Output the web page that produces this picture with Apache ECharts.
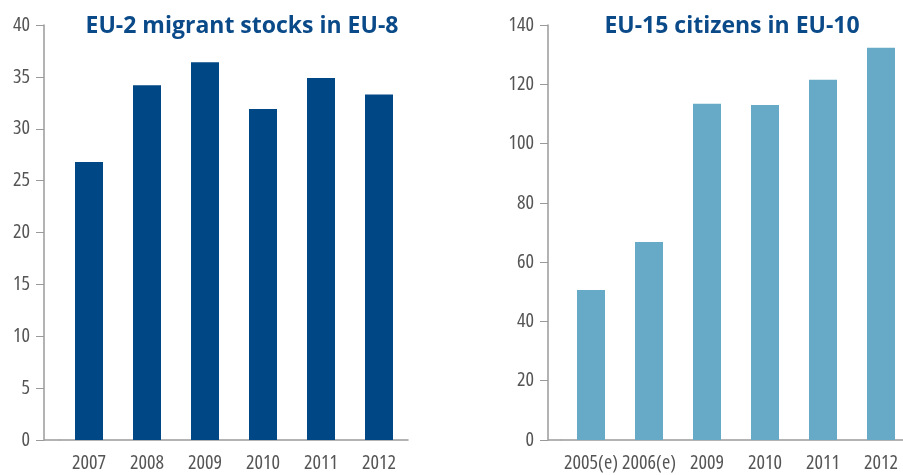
<!DOCTYPE html>
<html>
<head>
<meta charset="utf-8">
<title>EU migrant stocks</title>
<script src="https://cdn.jsdelivr.net/npm/echarts@6/dist/echarts.min.js"></script>
<style>
    html, body { margin: 0; padding: 0; background: #fff; }
    #chart { width: 903px; height: 475px; }
</style>
</head>
<body>
<div id="chart"></div>
<script type="text/javascript">
    // left panel
    var eu2Years = ['2007', '2008', '2009', '2010', '2011', '2012'];
    var eu2Stocks = [26.8, 34.2, 36.4, 31.9, 34.9, 33.3];
    // right panel
    var eu15Years = ['2005(e)', '2006(e)', '2009', '2010', '2011', '2012'];
    var eu15Citizens = [50.6, 66.8, 113.4, 113.0, 121.5, 132.3];

    var axisGray = '#9a9a9a';
    var textGray = '#555';

    // grid layout: left edge, y axis offset
    var grids = [
        {left: 60, width: 348, offset: 16},
        {left: 562, width: 348, offset: 14}
    ];
    var gridTop = 25, gridBottom = 35;

    var myChart = echarts.init(document.getElementById('chart'));

    // 'condensed' goes into the canvas font string as font-stretch
    var labelStyle = {
        color: textGray,
        fontFamily: "'Open Sans'",
        fontWeight: 'condensed',
        fontSize: 20
    };

    function xAxisOf(idx, data) {
        return {
            type: 'category',
            gridIndex: idx,
            data: data,
            axisLine: {lineStyle: {color: axisGray, width: 1.5}},
            axisTick: {inside: true, length: 7, lineStyle: {color: axisGray}},
            axisLabel: Object.assign({interval: 0, margin: 13}, labelStyle)
        };
    }

    function yAxisOf(idx, max, interval) {
        return {
            type: 'value',
            gridIndex: idx,
            min: 0,
            max: max,
            interval: interval,
            offset: grids[idx].offset,
            axisLine: {show: true, lineStyle: {color: axisGray, width: 1.5}},
            axisTick: {show: true, length: 8, lineStyle: {color: axisGray}},
            splitLine: {show: false},
            axisLabel: Object.assign({margin: 14}, labelStyle)
        };
    }

    var titleStyle = {
        color: '#0a4a89',
        fontFamily: "'Open Sans'",
        fontWeight: 'bold',
        fontSize: 23
    };

    // short piece of x axis line between the offset y axis and the grid
    var h = 475 - gridBottom;
    var graphics = grids.map(function (g) {
        return {
            type: 'line',
            shape: {x1: g.left - g.offset, y1: h, x2: g.left, y2: h},
            style: {stroke: axisGray, lineWidth: 1.5}
        };
    });

    var option = {
        animation: false,
        title: [
            {text: 'EU-2 migrant stocks in EU-8', left: 237, top: 10, textAlign: 'center', textStyle: titleStyle},
            {text: 'EU-15 citizens in EU-10', left: 727, top: 10, textAlign: 'center', textStyle: titleStyle}
        ],
        grid: grids.map(function (g) {
            return {
                left: g.left, width: g.width, top: gridTop, bottom: gridBottom,
                containLabel: false, outerBoundsMode: 'none'
            };
        }),
        xAxis: [xAxisOf(0, eu2Years), xAxisOf(1, eu15Years)],
        yAxis: [yAxisOf(0, 40, 5), yAxisOf(1, 140, 20)],
        series: [
            {
                type: 'bar',
                xAxisIndex: 0,
                yAxisIndex: 0,
                data: eu2Stocks,
                barWidth: 28,
                itemStyle: {color: '#004785'}
            },
            {
                type: 'bar',
                xAxisIndex: 1,
                yAxisIndex: 1,
                data: eu15Citizens,
                barWidth: 28,
                itemStyle: {color: '#67aac8'}
            }
        ],
        graphic: graphics
    };

    myChart.setOption(option);
</script>
</body>
</html>
